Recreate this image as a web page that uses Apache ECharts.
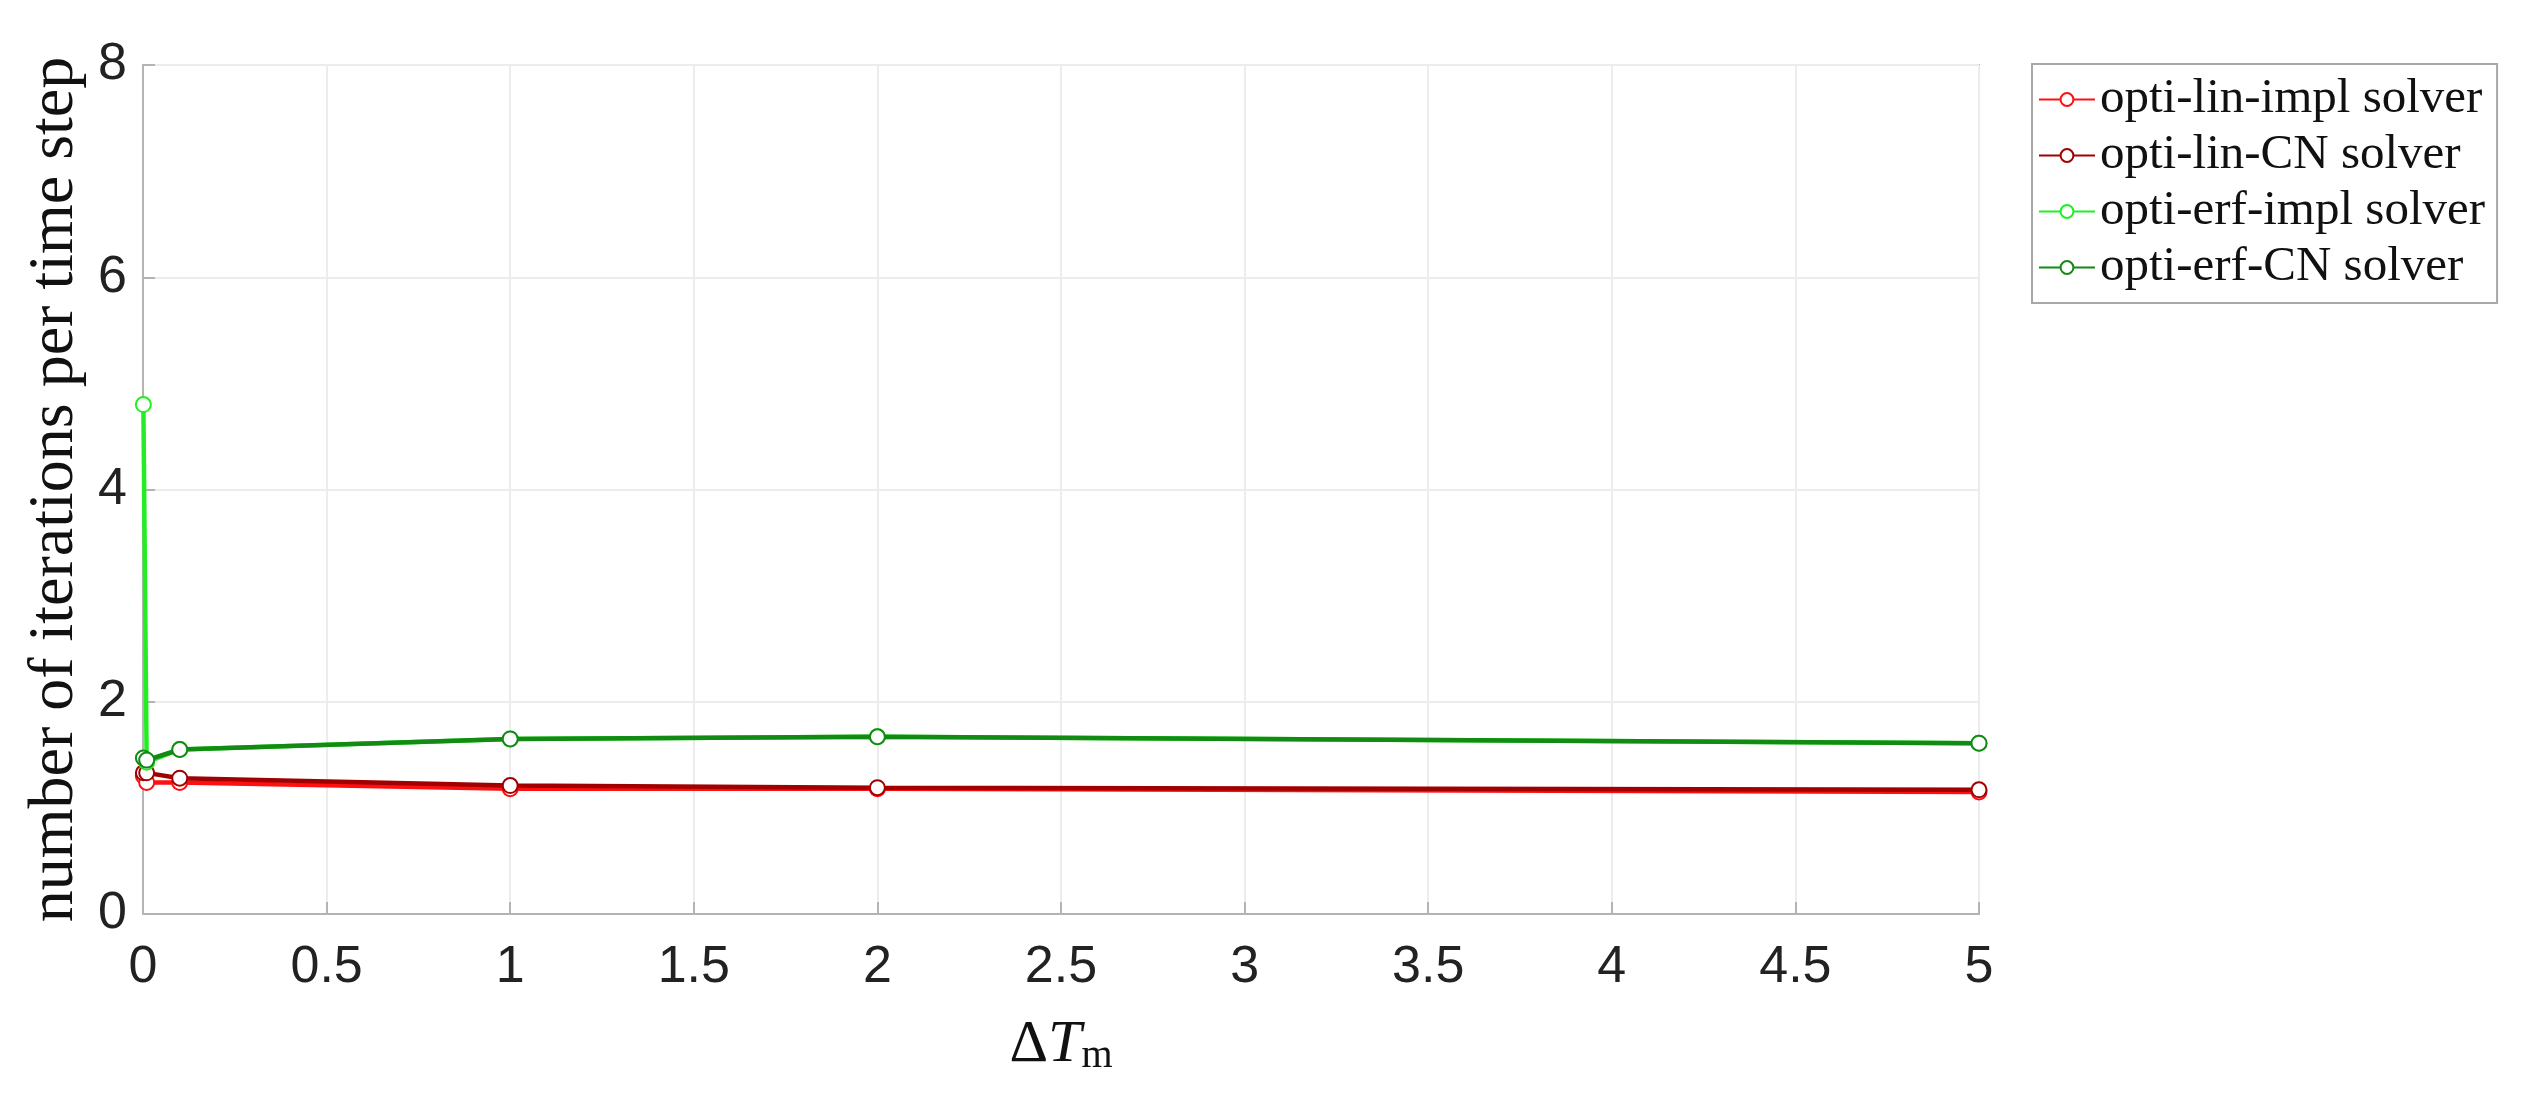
<!DOCTYPE html>
<html>
<head>
<meta charset="utf-8">
<script src="https://cdn.jsdelivr.net/npm/echarts@6/dist/echarts.min.js"></script>
<style>html,body{margin:0;padding:0;background:#fff;}#c{width:2544px;height:1095px;}</style>
</head>
<body>
<div id="c"></div>
<script>
const xVals = [0.001, 0.01, 0.1, 1, 2, 5];
const linImpl = [1.30, 1.24, 1.24, 1.18, 1.18, 1.15];
const linCN = [1.33, 1.33, 1.28, 1.21, 1.19, 1.17];
const erfImpl = [4.80, 1.43, 1.55, 1.65, 1.67, 1.61];
const erfCN = [1.47, 1.45, 1.55, 1.65, 1.67, 1.61];
const seriesNames = ['opti-lin-impl solver', 'opti-lin-CN solver', 'opti-erf-impl solver', 'opti-erf-CN solver'];
const seriesColors = ['#ff1010', '#a00000', '#22ee22', '#138a13'];
const seriesValues = [linImpl, linCN, erfImpl, erfCN];

const chart = echarts.init(document.getElementById('c'));
const serif = '"Liberation Serif", "DejaVu Serif", serif';
const sans = '"Liberation Sans", Arial, sans-serif';

chart.setOption({
  animation: false,
  backgroundColor: '#ffffff',
  grid: { left: 143, top: 65, width: 1836, height: 849, show: true, borderColor: '#b4b4b4', borderWidth: 2, backgroundColor: 'transparent' },
  legend: {
    left: 2032, top: 64,
    orient: 'vertical',
    data: seriesNames,
    itemWidth: 56, itemHeight: 16,
    itemGap: 7,
    padding: [11, 12, 11, 6],
    borderColor: '#a8a8a8', borderWidth: 2,
    textStyle: { fontFamily: serif, fontSize: 49, color: '#111' }
  },
  xAxis: {
    type: 'value', min: 0, max: 5, interval: 0.5,
    name: '{d|Δ}{t|T}{s|m}',
    nameLocation: 'middle', nameGap: 100,
    nameTextStyle: {
      rich: {
        d: { fontFamily: serif, fontSize: 60, color: '#111' },
        t: { fontFamily: serif, fontSize: 60, fontStyle: 'italic', color: '#111' },
        s: { fontFamily: serif, fontSize: 40, color: '#111', verticalAlign: 'bottom', padding: [22, 0, 0, 0] }
      }
    },
    axisLine: { show: true, lineStyle: { color: '#b4b4b4', width: 2 } },
    axisTick: { show: true, inside: true, length: 12, lineStyle: { color: '#b4b4b4', width: 2 } },
    axisLabel: { fontFamily: sans, fontSize: 52, color: '#222', margin: 28 },
    splitLine: { show: true, lineStyle: { color: '#ececec', width: 2 } }
  },
  yAxis: {
    type: 'value', min: 0, max: 8, interval: 2,
    name: 'number of iterations per time step',
    nameLocation: 'middle', nameGap: 55,
    nameTextStyle: { fontFamily: serif, fontSize: 64, color: '#111' },
    axisLine: { show: true, lineStyle: { color: '#b4b4b4', width: 2 } },
    axisTick: { show: true, inside: true, length: 12, lineStyle: { color: '#b4b4b4', width: 2 } },
    axisLabel: { fontFamily: sans, fontSize: 52, color: '#222', margin: 16 },
    splitLine: { show: true, lineStyle: { color: '#ececec', width: 2 } }
  },
  series: seriesNames.map((n, i) => ({
    name: n,
    type: 'line',
    data: xVals.map((x, j) => [x, seriesValues[i][j]]),
    symbol: 'emptyCircle',
    symbolSize: 15,
    showAllSymbol: true,
    z: 2 + i,
    lineStyle: { color: seriesColors[i], width: 4.5 },
    itemStyle: { color: seriesColors[i], borderColor: seriesColors[i], borderWidth: 3.5 }
  }))
});
</script>
</body>
</html>
